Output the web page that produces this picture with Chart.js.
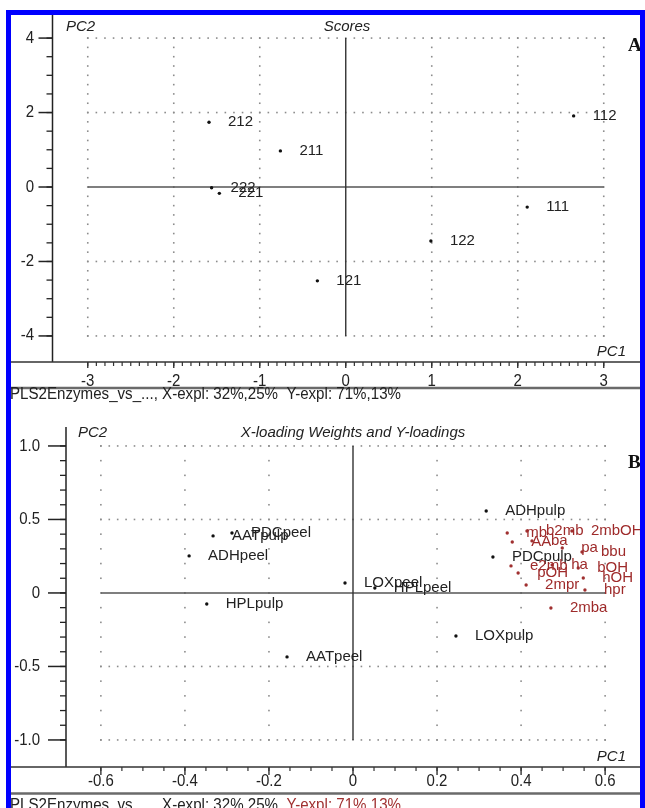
<!DOCTYPE html>
<html><head><meta charset="utf-8">
<script src="https://cdn.jsdelivr.net/npm/chart.js@4.4.1/dist/chart.umd.min.js"></script>
<style>
html,body{margin:0;padding:0;background:#fff;width:645px;height:808px;overflow:hidden;}
#frame{position:absolute;left:6px;top:10px;width:639px;height:900px;border:5px solid #0000ff;border-bottom:none;box-sizing:border-box;z-index:5;pointer-events:none;}
#ca{position:absolute;left:0;top:0;}
#cb{position:absolute;left:0;top:404px;}
.lt{position:absolute;font:bold 19px "Liberation Serif";color:#111;z-index:4;line-height:19px;}
</style></head>
<body>
<canvas id="ca" width="645" height="404"></canvas>
<canvas id="cb" width="645" height="404"></canvas>
<div class="lt" style="left:628px;top:35px">A</div>
<div class="lt" style="left:628px;top:452px">B</div>
<div id="frame"></div>
<script>
// ---- Panel A: Scores ----
const scoreLabels = ['212','211','222','221','112','111','122','121'];
const scorePC1 = [-1.59,-0.76,-1.56,-1.47,2.65,2.11,0.99,-0.33];
const scorePC2 = [1.74,0.97,-0.02,-0.17,1.91,-0.54,-1.45,-2.52];
const scoreXTicks = [-3,-2,-1,0,1,2,3];
const scoreXTickLabels = ['-3','-2','-1','0','1','2','3'];
const scoreYTicks = [4,2,0,-2,-4];
const scoreYTickLabels = ['4','2','0','-2','-4'];

// ---- Panel B: X-loading weights (black) and Y-loadings (red) ----
const xLoadLabels = ['ADHpulp','AATpulp','PDCpeel','ADHpeel','HPLpulp','LOXpeel','HPLpeel','AATpeel','LOXpulp','PDCpulp'];
const xLoadPC1 = [0.317,-0.333,-0.288,-0.390,-0.348,-0.019,0.052,-0.157,0.245,0.333];
const xLoadPC2 = [0.558,0.388,0.408,0.252,-0.075,0.068,0.034,-0.435,-0.293,0.245];
const yLoadLabels = ['mb','b2mb','2mbOH','AA','ba','pa','bbu','e2mb','pOH','ha','bOH','hOH','2mpr','hpr','2mba'];
const yLoadPC1 = [0.367,0.414,0.521,0.379,0.426,0.498,0.545,0.376,0.393,0.474,0.536,0.548,0.412,0.552,0.471];
const yLoadPC2 = [0.408,0.422,0.422,0.347,0.354,0.306,0.279,0.184,0.136,0.190,0.170,0.102,0.054,0.020,-0.102];
const loadXTicks = [-0.6,-0.4,-0.2,0,0.2,0.4,0.6];
const loadXTickLabels = ['-0.6','-0.4','-0.2','0','0.2','0.4','0.6'];
const loadYTicks = [1.0,0.5,0,-0.5,-1.0];
const loadYTickLabels = ['1.0','0.5','0','-0.5','-1.0'];

const statusParts = ['PLS2Enzymes_vs_..., X-expl: 32%,25%  ','Y-expl: 71%,13%'];

function pts(xs, ys, labels){ return xs.map((x,i)=>({x:x,y:ys[i],label:labels[i]})); }

function txt(ctx,s,x,y,font,color,align,sy){
  ctx.save();ctx.font=font;ctx.fillStyle=color;ctx.textAlign=align||'left';ctx.textBaseline='middle';
  ctx.translate(x,y);ctx.scale(1,sy||1);ctx.fillText(s,0,0);ctx.restore();
}
function line(ctx,x1,y1,x2,y2,color,w){ctx.save();ctx.strokeStyle=color;ctx.lineWidth=w;ctx.beginPath();ctx.moveTo(x1,y1);ctx.lineTo(x2,y2);ctx.stroke();ctx.restore();}
function range(a,b,step){const r=[];const n=Math.round((b-a)/step);for(let i=0;i<=n;i++)r.push(a+i*step);return r;}

const plsPlugin = {
  id:'pls',
  beforeDatasetsDraw(chart,args,o){
    const ctx=chart.ctx, xs=chart.scales.x, ys=chart.scales.y, ca=chart.chartArea;
    const X=v=>xs.getPixelForValue(v), Y=v=>ys.getPixelForValue(v);
    const gx=o.gridX, gy=o.gridY;
    const x0=gx[0], x1=gx[gx.length-1], y0=gy[gy.length-1], y1=gy[0];
    ctx.save();ctx.fillStyle='#8c8c8c';
    gy.forEach(v=>{ if(v===0) return; range(x0,x1,o.dotX).forEach(u=>ctx.fillRect(X(u)-0.8,Y(v)-0.8,1.6,1.6)); });
    gx.forEach(v=>{ if(v===0) return; range(y0,y1,o.dotY).forEach(u=>ctx.fillRect(X(v)-0.8,Y(u)-0.8,1.6,1.6)); });
    ctx.restore();
    line(ctx,X(x0),Y(0),X(x1),Y(0),'#555',1.6);
    line(ctx,X(0),Y(y1),X(0),Y(y0),'#333',1.4);
    line(ctx,ca.left,ca.top,ca.left,ca.bottom,'#222',1.5);
    range(o.minorY[0],o.minorY[1],o.minorY[2]).forEach(v=>line(ctx,ca.left-6,Y(v),ca.left,Y(v),'#222',1.3));
    gy.forEach((v,i)=>{ line(ctx,ca.left-o.majorLen,Y(v),ca.left,Y(v),'#222',1.5);
      txt(ctx,o.yLabels[i],o.yLabelX,Y(v),'15px "Liberation Sans"','#222','right',1.1); });
    line(ctx,10,ca.bottom,640,ca.bottom,'#333',1.6);
    range(o.minorX[0],o.minorX[1],o.minorX[2]).forEach(v=>line(ctx,X(v),ca.bottom,X(v),ca.bottom+4,'#333',1.2));
    gx.forEach((v,i)=>{ line(ctx,X(v),ca.bottom,X(v),ca.bottom+o.xMajorLen,'#333',1.4);
      txt(ctx,o.xLabels[i],X(v),ca.bottom+o.xLabelDy,'15px "Liberation Sans"','#222','center',1.1); });
    line(ctx,10,o.sepY,640,o.sepY,'#6a6a6a',2.5);
    // status line: segments drawn one after another, squeezed to the measured total width
    ctx.save();ctx.font='15px "Liberation Sans"';ctx.textBaseline='middle';
    const total=o.status.reduce((a,s)=>a+ctx.measureText(s.t).width,0);
    const k=o.statusW/total;
    ctx.translate(10,o.statusY);ctx.scale(k,1.05);
    let cx=0;o.status.forEach(s=>{ctx.fillStyle=s.c;ctx.fillText(s.t,cx,0);cx+=ctx.measureText(s.t).width;});
    ctx.restore();
    txt(ctx,'PC2',o.pc2X,o.titleY,'italic 15px "Liberation Sans"','#222','left');
    txt(ctx,o.title,o.titleX,o.titleY,'italic 15px "Liberation Sans"','#222','center');
    txt(ctx,'PC1',626,o.pc1Y,'italic 15px "Liberation Sans"','#222','right');
  },
  afterDatasetsDraw(chart,args,o){
    const ctx=chart.ctx;
    chart.data.datasets.forEach((ds,di)=>{
      const meta=chart.getDatasetMeta(di);
      meta.data.forEach((el,i)=>{
        txt(ctx,ds.data[i].label,el.x+19,el.y,'15px "Liberation Sans"',ds.labelColor,'left');
      });
    });
  }
};

function makeChart(id,datasets,padding,xr,yr,pls){
  return new Chart(document.getElementById(id),{
    type:'scatter',
    data:{datasets:datasets},
    options:{
      responsive:false,animation:false,devicePixelRatio:1,
      layout:{padding:padding},
      scales:{
        x:{type:'linear',display:false,min:xr[0],max:xr[1]},
        y:{type:'linear',display:false,min:yr[0],max:yr[1]}
      },
      plugins:{legend:{display:false},tooltip:{enabled:false},pls:pls}
    },
    plugins:[plsPlugin]
  });
}

makeChart('ca',
  [{data:pts(scorePC1,scorePC2,scoreLabels),pointRadius:1.7,pointBackgroundColor:'#111',pointBorderWidth:0,labelColor:'#222'}],
  {left:52.5,right:6,top:15,bottom:42},[-3.41,3.41],[-4.70,4.62],
  {gridX:scoreXTicks,gridY:scoreYTicks,dotX:0.1,dotY:0.25,
   minorY:[-4,4,0.5],minorX:[-3,3,0.1],majorLen:14,xMajorLen:6,xLabelDy:19,
   yLabels:scoreYTickLabels,xLabels:scoreXTickLabels,yLabelX:34,
   sepY:388,statusY:395,statusW:391,
   status:[{t:statusParts[0],c:'#222'},{t:statusParts[1],c:'#222'}],
   pc2X:66,titleX:347,titleY:27,title:'Scores',pc1Y:352});

makeChart('cb',
  [{data:pts(xLoadPC1,xLoadPC2,xLoadLabels),pointRadius:1.7,pointBackgroundColor:'#111',pointBorderWidth:0,labelColor:'#222'},
   {data:pts(yLoadPC1,yLoadPC2,yLoadLabels),pointRadius:1.7,pointBackgroundColor:'#a03030',pointBorderWidth:0,labelColor:'#9e2a2a'}],
  {left:66,right:5,top:23,bottom:41},[-0.683,0.683],[-1.184,1.129],
  {gridX:loadXTicks,gridY:loadYTicks,dotX:0.02,dotY:0.1,
   minorY:[-1,1,0.1],minorX:[-0.6,0.6,0.05],majorLen:18,xMajorLen:8,xLabelDy:14,
   yLabels:loadYTickLabels,xLabels:loadXTickLabels,yLabelX:40,
   sepY:389.5,statusY:401.5,statusW:391,
   status:[{t:statusParts[0],c:'#222'},{t:statusParts[1],c:'#a03030'}],
   pc2X:78,titleX:353,titleY:29,title:'X-loading Weights and Y-loadings',pc1Y:353});
</script>
</body></html>
